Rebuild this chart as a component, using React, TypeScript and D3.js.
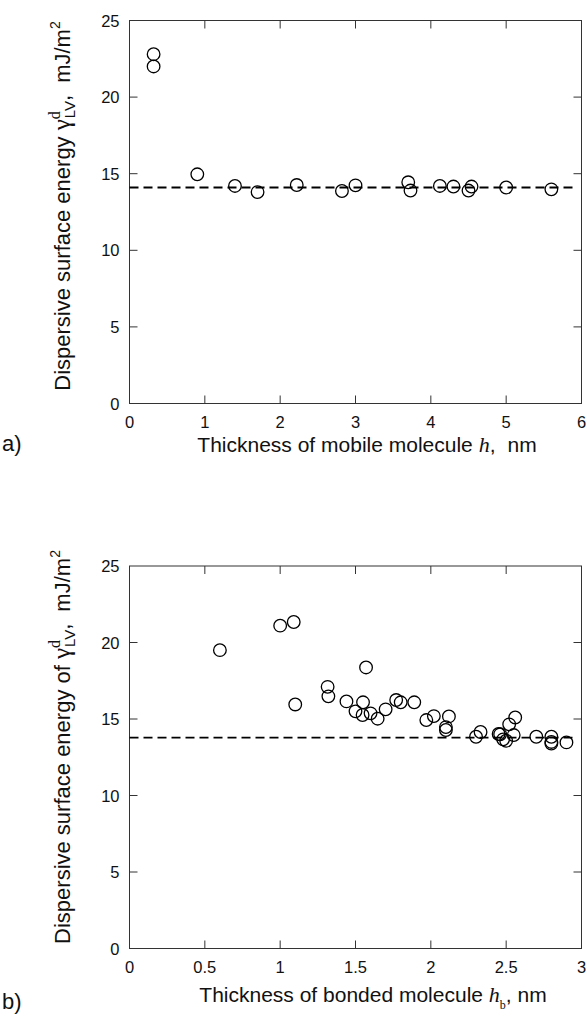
import React from "react";
import * as d3 from "d3";

const topX = [0.32, 0.32, 0.9, 1.4, 1.7, 2.22, 2.82, 3.0, 3.7, 3.73, 4.12, 4.3, 4.5, 4.54, 5.0, 5.6];
const topY = [22.8, 22.0, 14.96, 14.2, 13.8, 14.26, 13.87, 14.24, 14.44, 13.9, 14.2, 14.16, 13.9, 14.16, 14.1, 13.98];
const topMean = 14.1;
const topXTicks = [0, 1, 2, 3, 4, 5, 6];

const botX = [0.6, 1.0, 1.09, 1.1, 1.57, 1.315, 1.32, 1.44, 1.5, 1.55, 1.547, 1.6, 1.647, 1.7, 1.77, 1.8, 1.89, 1.97, 2.02, 2.12, 2.1, 2.1, 2.3, 2.33, 2.45, 2.46, 2.48, 2.5, 2.52, 2.55, 2.56, 2.7, 2.8, 2.8, 2.8, 2.9];
const botY = [19.5, 21.1, 21.34, 15.95, 18.37, 17.1, 16.48, 16.15, 15.5, 16.09, 15.26, 15.37, 15.02, 15.63, 16.24, 16.09, 16.09, 14.93, 15.19, 15.17, 14.47, 14.28, 13.84, 14.15, 14.02, 14.0, 13.67, 13.58, 14.65, 13.95, 15.1, 13.84, 13.84, 13.4, 13.5, 13.47];
const botMean = 13.78;
const botXTicks = [0, 0.5, 1, 1.5, 2, 2.5, 3];

const yTicks = [0, 5, 10, 15, 20, 25];

const SANS = "'Liberation Sans', Arial, sans-serif";
const SERIF = "'Liberation Serif', 'Times New Roman', serif";

type PanelProps = {
  xs: number[];
  ys: number[];
  mean: number;
  xDomain: [number, number];
  xTicks: number[];
  top: number;
  bottom: number;
  left: number;
  right: number;
  dashW: number;
};

function Panel({ xs, ys, mean, xDomain, xTicks, top, bottom, left, right, dashW }: PanelProps) {
  const x = d3.scaleLinear().domain(xDomain).range([left, right]);
  const y = d3.scaleLinear().domain([0, 25]).range([bottom, top]);
  const tl = 8;
  return (
    <g>
      <rect x={left} y={top} width={right - left} height={bottom - top} fill="none" stroke="#333" strokeWidth={1} />
      {xTicks.slice(1, -1).map((t) => (
        <g key={"xt" + t}>
          <line x1={x(t)} x2={x(t)} y1={bottom} y2={bottom - tl} stroke="#333" />
          <line x1={x(t)} x2={x(t)} y1={top} y2={top + tl} stroke="#333" />
        </g>
      ))}
      {yTicks.slice(1, -1).map((t) => (
        <g key={"yt" + t}>
          <line x1={left} x2={left + tl} y1={y(t)} y2={y(t)} stroke="#333" />
          <line x1={right} x2={right - tl} y1={y(t)} y2={y(t)} stroke="#333" />
        </g>
      ))}
      {xTicks.map((t) => (
        <text key={"xl" + t} x={x(t)} y={bottom + 24} textAnchor="middle" fontFamily={SANS} fontSize={16.5} fill="#111">
          {String(t)}
        </text>
      ))}
      {yTicks.map((t) => (
        <text key={"yl" + t} x={left - 10} y={y(t) + 6} textAnchor="end" fontFamily={SANS} fontSize={16.5} fill="#111">
          {String(t)}
        </text>
      ))}
      <line x1={left} x2={right - 4} y1={y(mean)} y2={y(mean)} stroke="#000" strokeWidth={dashW} strokeDasharray="9,5" />
      {xs.map((v, i) => (
        <circle key={"c" + i} cx={x(v)} cy={y(ys[i])} r={6.3} fill="none" stroke="#000" strokeWidth={1.3} />
      ))}
    </g>
  );
}

function YLabel({ cx, cy, of }: { cx: number; cy: number; of: boolean }) {
  return (
    <text transform={`translate(${cx},${cy}) rotate(-90)`} textAnchor="middle" fontFamily={SANS} fontSize={22} fill="#111">
      {of ? "Dispersive surface energy of " : "Dispersive surface energy "}
      <tspan fontFamily={SERIF} fontSize={25}>γ</tspan>
      <tspan fontFamily={SERIF} fontSize={16} dy={-10}>d</tspan>
      <tspan fontSize={15} dx={-7} dy={15}>LV</tspan>
      <tspan dy={-5}>,</tspan>
      <tspan dx={12}>mJ/m</tspan>
      <tspan fontSize={14} dy={-10}>2</tspan>
    </text>
  );
}

export default function App() {
  return (
    <svg width={587} height={1017} style={{ position: "absolute", left: 0, top: 0, background: "#fff" }}>
      <rect width={587} height={1017} fill="#fff" />
      <Panel xs={topX} ys={topY} mean={topMean} xDomain={[0, 6]} xTicks={topXTicks} top={20.5} bottom={403.5} left={129.5} right={581.5} dashW={2.2} />
      <Panel xs={botX} ys={botY} mean={botMean} xDomain={[0, 3]} xTicks={botXTicks} top={566} bottom={948.5} left={129.5} right={581.5} dashW={1.6} />
      <YLabel cx={70} cy={206} of={false} />
      <YLabel cx={70} cy={747} of={true} />
      <text x={367} y={452} textAnchor="middle" fontFamily={SANS} fontSize={21} fill="#111">
        Thickness of mobile molecule <tspan fontFamily={SERIF} fontStyle="italic" fontSize={22}>h</tspan>,<tspan dx={12}>nm</tspan>
      </text>
      <text x={373} y={1002} textAnchor="middle" fontFamily={SANS} fontSize={21} fill="#111">
        Thickness of bonded molecule <tspan fontFamily={SERIF} fontStyle="italic" fontSize={22}>h</tspan>
        <tspan fontFamily={SERIF} fontSize={12} dy={7}>b</tspan>
        <tspan dy={-7}>, nm</tspan>
      </text>
      <text x={2} y={451} fontFamily={SANS} fontSize={22} fill="#111">a)</text>
      <text x={2} y={1009} fontFamily={SANS} fontSize={22} fill="#111">b)</text>
    </svg>
  );
}
